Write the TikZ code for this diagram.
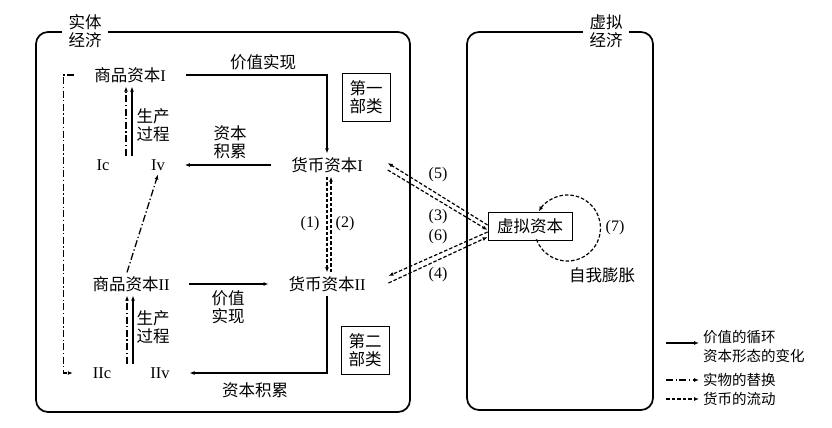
\documentclass[tikz,border=0pt]{standalone}
\usepackage{fontspec}
\setmainfont{Liberation Serif}
\newfontfamily\cjk{Noto Sans CJK SC}
\usetikzlibrary{arrows.meta,calc}

\newcommand{\rn}[1]{{\rmfamily #1}}

\tikzset{
    flow/.style={line width=1.3pt, -{Latex[length=5pt,width=4pt]}},
    swap/.style={line width=1.3pt, dash pattern=on 7pt off 2.5pt on 1.3pt off 2.5pt, -{Latex[length=5pt,width=4pt]}},
    money/.style={line width=1.2pt, dash pattern=on 3.5pt off 2pt, -{Latex[length=5pt,width=4pt]}},
    txt/.style={font=\cjk\fontsize{16.5}{18.5}\selectfont, inner sep=2pt, outer xsep=18pt, outer ysep=2pt},
    lbl/.style={font=\cjk\fontsize{16.5}{18.5}\selectfont, inner sep=1pt, align=center},
    kind/.style={lbl, draw, line width=0.9pt, minimum width=48pt, minimum height=48pt},
    econ/.style={draw, line width=1.7pt, rounded corners=12pt},
    head/.style={lbl, fill=white, inner xsep=6.5pt},
    note/.style={font=\cjk\fontsize{14.5}{19}\selectfont, anchor=west, inner sep=4pt, align=left},
}

\begin{document}
\begin{tikzpicture}[x=1pt, y=-1pt]
    \useasboundingbox (0,0) rectangle (832,428);

    % The two economies
    \draw[econ] (36,32) rectangle (410,412); % Real economy
    \draw[econ] (467,32) rectangle (653,410); % Virtual economy
    \node[head] (real) at (85,31) {实体\\经济};
    \node[head] (virtual) at (606,31) {虚拟\\经济};

    % Department I
    \node[txt] (c1) at (130,75) {商品资本\rn{I}};
    \node[txt] (m1) at (327,165) {货币资本\rn{I}};
    \node[txt] (Ic) at (103,165) {\rn{Ic}};
    \node[txt] (Iv) at (158,165) {\rn{Iv}};
    \node[kind] (dep1) at (366,97) {第一\\部类};

    % Department II
    \node[txt] (c2) at (131,284) {商品资本\rn{II}};
    \node[txt] (m2) at (327,284) {货币资本\rn{II}};
    \node[txt] (IIc) at (102,373) {\rn{IIc}};
    \node[txt] (IIv) at (160,373) {\rn{IIv}};
    \node[kind] (dep2) at (365,350) {第二\\部类};

    % Fictitious capital
    \node[lbl, draw, line width=0.9pt, inner xsep=9pt, minimum height=28pt] (fc) at (530,226) {虚拟资本};

    % Circuit of value
    \draw[flow] (c1.east) -| (m1.north); % Realisation I
    \draw[flow] (m1.west) -- (Iv.east); % Accumulation I
    \draw[flow] (c2.east) -- (m2.west); % Realisation II
    \draw[flow] (m2.south) |- (IIv.east); % Accumulation II

    % Production process
    \coordinate (pI) at (c1.south |- Ic.north);
    \coordinate (pII) at (c2.south |- IIc.north);
    \draw[flow] ([xshift=2pt]pI) -- ([xshift=2pt]c1.south);
    \draw[swap] ([xshift=-4pt]pI) -- ([xshift=-4pt]c1.south);
    \draw[flow] ([xshift=2pt]pII) -- ([xshift=2pt]c2.south);
    \draw[swap] ([xshift=-4pt]pII) -- ([xshift=-4pt]c2.south);

    % Material replacement
    \draw[swap] (c1.west) -- ++(-11,0) |- (IIc.west);
    \draw[swap] ([xshift=-4pt]c2.north) -- (Iv.south);

    % Money flows
    \draw[money] (m1.south) -- (m2.north); % (1)
    \draw[money] ([xshift=4pt]m2.north) -- ([xshift=4pt]m1.south); % (2)
    \draw[money] ([shift={(0,-1)}]fc.west) -- ([shift={(5,-2)}]m1.east); % (5)
    \draw[money] ([shift={(5,5)}]m1.east) -- ([shift={(0,4)}]fc.west); % (3)
    \draw[money] ([shift={(0,6)}]fc.west) -- ([shift={(3,-8)}]m2.east); % (6)
    \draw[money] ([shift={(3,-1)}]m2.east) -- ([shift={(0,11)}]fc.west); % (4)

    % Self expansion
    \coordinate (loop) at ($(fc.east)+(-5,2)$);
    \draw[money] (loop) ++(200:33pt) arc[start angle=200, end angle=510, radius=33pt];

    % Labels
    \node[lbl] (real1) at (263,62) {价值实现};
    \node[lbl] (acc1) at (230,142) {资本\\积累};
    \node[lbl] (prod1) at (153,125) {生产\\过程};
    \node[lbl] (prod2) at (153,327) {生产\\过程};
    \node[lbl] (real2) at (228,307) {价值\\实现};
    \node[lbl] (acc2) at (255,390) {资本积累};
    \node[lbl, font=\fontsize{16}{18}\selectfont] (n1) at (310,224) {(1)};
    \node[lbl, font=\fontsize{16}{18}\selectfont] (n2) at (345,224) {(2)};
    \node[lbl, font=\fontsize{16}{18}\selectfont] (n5) at (438,175) {(5)};
    \node[lbl, font=\fontsize{16}{18}\selectfont] (n3) at (438,217) {(3)};
    \node[lbl, font=\fontsize{16}{18}\selectfont] (n6) at (438,237) {(6)};
    \node[lbl, font=\fontsize{16}{18}\selectfont] (n4) at (438,275) {(4)};
    \node[lbl, font=\fontsize{16}{18}\selectfont] (n7) at (615,228) {(7)};
    \node[lbl] (grow) at (602,275) {自我膨胀};

    % Legend
    \coordinate (l1) at (666,343);
    \coordinate (l2) at (666,380);
    \coordinate (l3) at (666,399);
    \node[note] (key1) at (699,346.5) {价值的循环\\资本形态的变化};
    \node[note] (key2) at (699,380) {实物的替换};
    \node[note] (key3) at (699,399) {货币的流动};
    \draw[flow] (l1) -- (l1 -| key1.west);
    \draw[swap] (l2) -- (key2.west);
    \draw[money] (l3) -- (key3.west);
\end{tikzpicture}
\end{document}
